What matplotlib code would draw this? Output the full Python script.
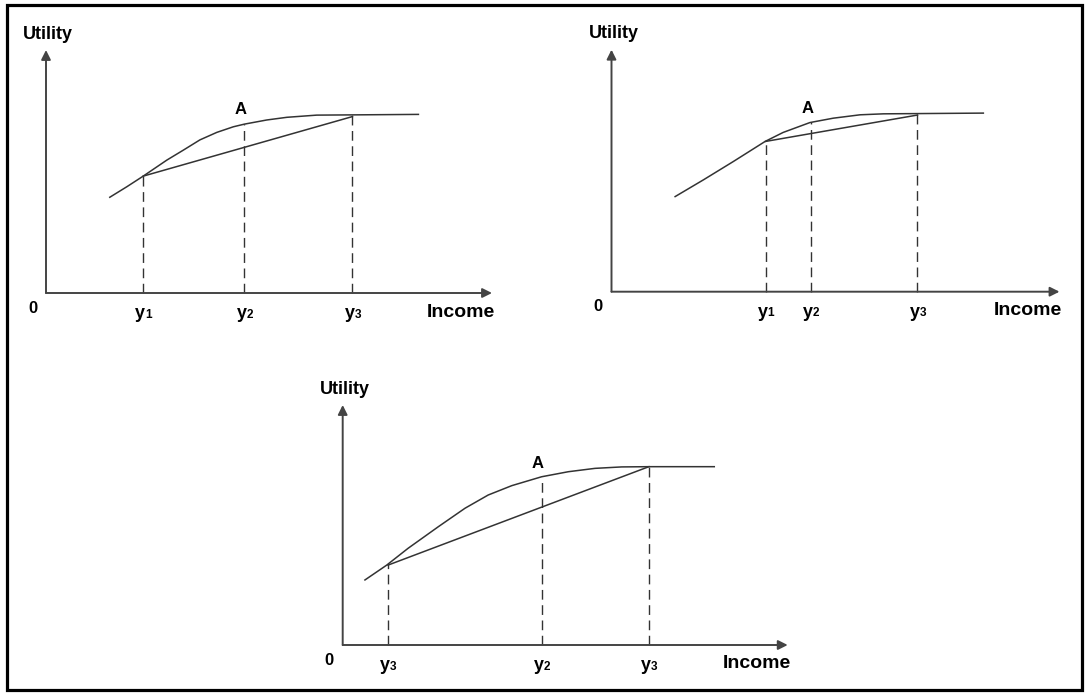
import numpy as np
import matplotlib
matplotlib.use('Agg')
import matplotlib.pyplot as plt
from matplotlib.patches import Rectangle

plt.rcParams['font.family'] = ['Liberation Sans', 'DejaVu Sans']
plt.rcParams['font.weight'] = 'bold'

W, H = 1088, 693

# utility curve, income on 0-100 (axis length), utility on 0-100 (axis height)
p1_income = [14.3, 18.1, 21.8, 27.1, 30.8, 34.5, 38.3, 42.0, 44.5, 49.5, 54.0, 60.7, 68.7, 83.5]
p1_utility = [39.4, 43.7, 48.1, 54.7, 58.8, 63.0, 66.1, 68.4, 69.5, 71.2, 72.3, 73.2, 73.3, 73.5]
p1_ticks = [21.8, 44.5, 68.7]
p1_labels = [('y', '1'), ('y', '2'), ('y', '3')]
p1_chord = [48.1, 72.6]

p2_income = [14.2, 20.5, 27.2, 34.3, 38.3, 44.3, 49.5, 55.5, 60.7, 68.3, 83.0]
p2_utility = [39.3, 46.2, 53.8, 62.1, 65.8, 69.9, 71.7, 73.1, 73.5, 73.6, 73.8]
p2_ticks = [34.4, 44.5, 68.3]
p2_labels = [('y', '1'), ('y', '2'), ('y', '3')]
p2_chord = [62.1, 73.0]

p3_income = [5.0, 9.9, 14.7, 21.5, 27.5, 32.7, 38.0, 44.7, 50.7, 56.7, 62.7, 68.8, 83.5]
p3_utility = [27.1, 33.3, 40.3, 49.3, 57.0, 62.5, 66.4, 70.1, 72.2, 73.6, 74.2, 74.3, 74.3]
p3_ticks = [10.2, 44.7, 68.8]
p3_labels = [('y', '3'), ('y', '2'), ('y', '3')]
p3_chord = [33.3, 74.3]

# panel placement in pixels: origin x, origin y, x-axis length, y-axis length
panels = [
    (46, 293, 446, 243, p1_income, p1_utility, p1_ticks, p1_labels, p1_chord),
    (611.5, 291.7, 448, 242, p2_income, p2_utility, p2_ticks, p2_labels, p2_chord),
    (342.7, 645, 445, 240, p3_income, p3_utility, p3_ticks, p3_labels, p3_chord),
]

fig = plt.figure(figsize=(W / 100, H / 100), dpi=100)
fig.patches.append(Rectangle((6.5 / W, 3 / H), (1082 - 6.5) / W, (688 - 3) / H,
                             transform=fig.transFigure, fill=False,
                             edgecolor='black', lw=2.3))

line_col = '#333333'
axis_col = '#444444'

for ox, oy, lx, ly, inc, utl, ticks, labels, chord in panels:
    ax = fig.add_axes([ox / W, 1 - oy / H, lx / W, ly / H])
    ax.set_xlim(0, 100)
    ax.set_ylim(0, 100)
    ax.axis('off')

    arrow = dict(arrowstyle='-|>', lw=1.4, color=axis_col,
                 mutation_scale=14, shrinkA=0, shrinkB=0)
    ax.annotate('', xy=(100, 0), xytext=(0, 0), arrowprops=arrow,
                annotation_clip=False)
    ax.annotate('', xy=(0, 100), xytext=(0, 0), arrowprops=arrow,
                annotation_clip=False)

    ax.plot(inc, utl, color=line_col, lw=1.1, clip_on=False)
    ax.plot([ticks[0], ticks[2]], chord, color=line_col, lw=1.1, clip_on=False)

    for t, (a, b) in zip(ticks, labels):
        top = np.interp(t, inc, utl)
        ax.plot([t, t], [0, top], color=line_col, lw=1.0,
                dashes=(7, 4), clip_on=False)
        ax.annotate(a, xy=(t, 0), xytext=(1.5, -15), textcoords='offset points',
                    ha='right', va='center', fontsize=13, fontweight='bold',
                    annotation_clip=False)
        ax.annotate(b, xy=(t, 0), xytext=(1.5, -15.5), textcoords='offset points',
                    ha='left', va='center', fontsize=8.5, fontweight='bold',
                    annotation_clip=False)

    ax.text(0.5, 106.5, 'Utility', ha='center', va='center', fontsize=13,
            fontweight='bold')
    ax.text(-3, -6.3, '0', ha='center', va='center', fontsize=12,
            fontweight='bold')
    ax.text(93, -7.9, 'Income', ha='center', va='center', fontsize=14,
            fontweight='bold')
    ax.text(43.7, 75.5, 'A', ha='center', va='center', fontsize=12,
            fontweight='bold')

fig.savefig('out.png', dpi=100)
